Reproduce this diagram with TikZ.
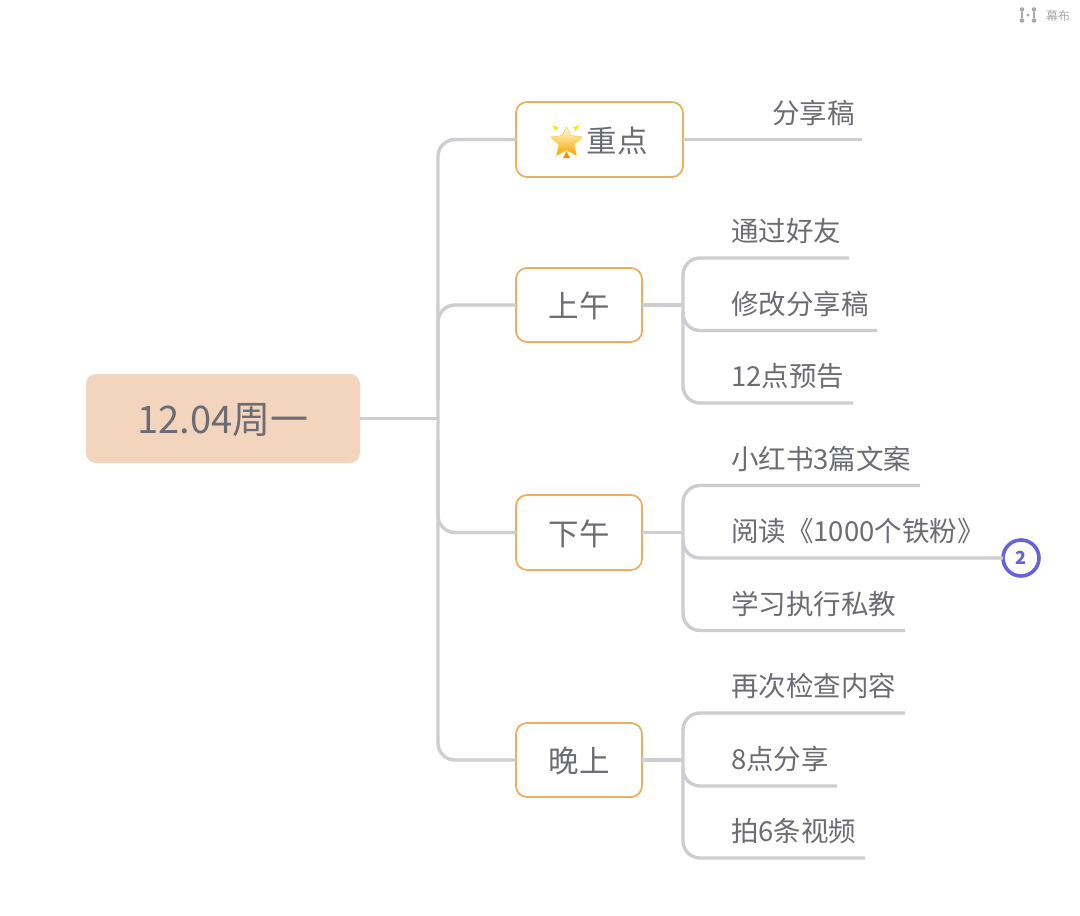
\documentclass[tikz,border=0pt]{standalone}
\usepackage{fontspec}
\setmainfont{Noto Sans CJK SC}
\definecolor{txt}{HTML}{6C6C74}
\definecolor{wire}{HTML}{CDCDD2}
\definecolor{boxline}{HTML}{E9B063}
\definecolor{rootfill}{HTML}{F3D5BE}
\definecolor{badge}{HTML}{6464D8}
\definecolor{logo}{HTML}{A8A8A8}
\newcommand{\lowered}[2]{\raisebox{0pt}[\dimexpr\height+#1\relax][\dimexpr\depth-#1\relax]{#2}}
\tikzset{
  x=1pt,y=-1pt,
  wireline/.style={draw=wire,line width=3.4pt,line cap=butt,rounded corners=17pt},
  plainwire/.style={draw=wire,line width=3.4pt},
  branch/.style={draw=boxline,line width=1.8pt,rounded corners=11pt,fill=white,inner sep=0pt,outer sep=0pt,
    text=txt,font=\fontsize{30.5}{30}\selectfont,anchor=north west},
  leaf/.style={text=txt,font=\fontsize{27.5}{28}\selectfont,anchor=west,inner sep=0pt},
  rootbox/.style={fill=rootfill,rounded corners=10pt,inner sep=0pt,outer sep=0pt,text=txt,
    font=\fontsize{38}{38}\selectfont},
  dot/.style={circle,fill=logo,inner sep=0pt,minimum size=4.6pt},
}
\begin{document}
\begin{tikzpicture}
\useasboundingbox (0,0) rectangle (1080,916);
\fill[white] (0,0) rectangle (1080,916);

% hub
\coordinate (hub) at (438,418.5);

% leaf ends
\coordinate (e0) at (862,139.5);
\coordinate (e11) at (849,258);
\coordinate (e12) at (877,330.5);
\coordinate (e13) at (853,403);
\coordinate (e21) at (920,485.5);
\coordinate (e23) at (905,630.5);
\coordinate (e31) at (905,713);
\coordinate (e32) at (837,786);
\coordinate (e33) at (865,858);

% nodes
\node[rootbox,minimum width=274pt,minimum height=89pt] (root) at (223,418.5) {\lowered{1.5pt}{12.04周一}};
\node[circle,draw=badge,line width=3.6pt,fill=white,minimum size=36pt,inner sep=0pt,outer sep=0pt,
      text=badge,font=\bfseries\fontsize{18}{18}\selectfont] (b2) at (1021,558) {2};

% branch boxes
\node[branch,minimum width=167pt,minimum height=75pt] (n0) at (516,102) {};
\node[branch,minimum width=126pt,minimum height=74pt] (n1) at (516,268) {\lowered{1pt}{上午}};
\node[branch,minimum width=126pt,minimum height=75pt] (n2) at (516,495) {\lowered{1pt}{下午}};
\node[branch,minimum width=126pt,minimum height=74pt] (n3) at (516,723) {\lowered{1pt}{晚上}};
\node[text=txt,font=\fontsize{30.5}{30}\selectfont,inner sep=0pt,anchor=west] (n0t) at (586.5,140.5) {重点};

% wires from spine
\draw[plainwire] (root.east) -- (hub);
\draw[wireline] (n0.west) -- (438,139.5) -- (438,760) -- (n3.west);
\draw[wireline] (n1.west) -| (438,400);
\draw[wireline] (n2.west) -| (438,440);

% star
\shade[top color=yellow!12!white,middle color=yellow!50!white,bottom color=orange!75!yellow,
       line join=round,draw=yellow!60!orange,line width=.4pt]
  (566.5,127) -- (570.8,135.5) -- (582,137) -- (574,144.5) -- (576.5,155.5) -- (566.5,150)
  -- (556.5,155.5) -- (559,144.5) -- (551,137) -- (562.2,135.5) -- cycle;
\fill[yellow!90!orange] (552.5,125) -- (558.5,127.5) -- (555.5,131) -- cycle;
\fill[yellow!90!orange] (580,124.5) -- (575.5,131) -- (573,127.5) -- cycle;
\fill[orange!90!yellow] (566.5,151.5) -- (570,158) -- (563,158) -- cycle;

% leaf wires
\draw[plainwire] (n0.east) -- (e0);
\draw[plainwire] (n1.east) -- (683,305);
\draw[plainwire] (n2.east) -- (683,532.5);
\draw[plainwire] (n3.east) -- (683,760);
\draw[wireline] (e11) -- (683,258) -- (683,403) -- (e13);
\draw[wireline] (e21) -- (683,485.5) -- (683,630.5) -- (e23);
\draw[wireline] (e31) -- (683,713) -- (683,858) -- (e33);
\draw[wireline] (683,312) |- (e12);
\draw[wireline] (683,540) |- (b2.west);
\draw[wireline] (683,768) |- (e32);

% leaf texts
\node[leaf] (l0) at (772,113) {分享稿};
\node[leaf] (l11) at (731,231.5) {通过好友};
\node[leaf] (l12) at (731,304) {修改分享稿};
\node[leaf] (l13) at (731,376.5) {12点预告};
\node[leaf] (l21) at (731,459) {小红书3篇文案};
\node[leaf] (l22) at (731,531.5) {阅读《1000个铁粉》};
\node[leaf] (l23) at (731,604) {学习执行私教};
\node[leaf] (l31) at (731,686.5) {再次检查内容};
\node[leaf] (l32) at (731,759) {8点分享};
\node[leaf] (l33) at (731,831.5) {拍6条视频};

% logo
\node[dot] (a1) at (1022,9.5) {};
\node[dot] (a2) at (1022,20.5) {};
\node[dot] (a3) at (1034,9.5) {};
\node[dot] (a4) at (1034,20.5) {};
\node[dot,minimum size=3.4pt] (a5) at (1028,15) {};
\draw[logo,line width=1.6pt] (a1) -- (a2) (a3) -- (a4);
\node[text=logo,font=\fontsize{12}{12}\selectfont,inner sep=0pt,anchor=west] (brand) at (1046,15.5) {幕布};
\end{tikzpicture}
\end{document}
